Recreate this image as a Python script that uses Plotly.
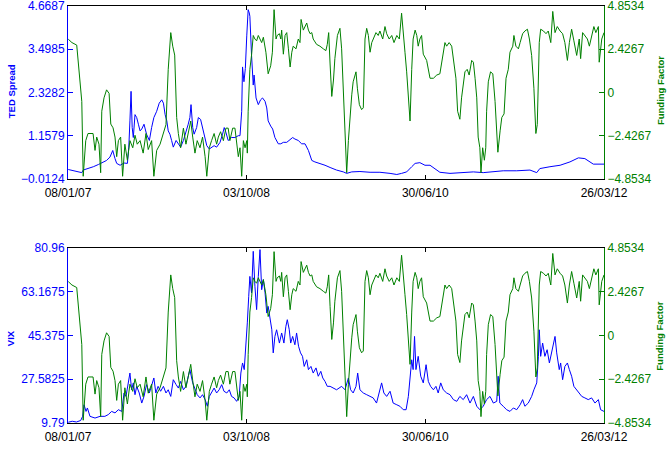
import pandas as pd
import plotly.graph_objects as go

START = pd.Timestamp("2007-01-08")
tick_dates = ["2007-01-08", "2008-10-03", "2010-06-30", "2012-03-26"]
tick_labels = ["08/01/07", "03/10/08", "30/06/10", "26/03/12"]

ted_ticks = [-0.0124, 1.1579, 2.3282, 3.4985, 4.6687]
ted_labels = ["\u22120.0124", "1.1579", "2.3282", "3.4985", "4.6687"]
vix_ticks = [9.79, 27.5825, 45.375, 63.1675, 80.96]
vix_labels = ["9.79", "27.5825", "45.375", "63.1675", "80.96"]
ff_ticks = [-4.8534, -2.4267, 0, 2.4267, 4.8534]
ff_labels = ["\u22124.8534", "\u22122.4267", "0", "2.4267", "4.8534"]

# Funding factor (days since 08/01/07, value)
ff_days = [1, 14, 31, 39, 49, 54, 63, 71, 89, 96,
           102, 110, 116, 120, 128, 137, 146, 152, 160, 167,
           173, 179, 187, 194, 202, 211, 220, 230, 238, 246,
           256, 267, 277, 285, 297, 305, 315, 327, 339, 348,
           356, 365, 372, 379, 386, 392, 400, 410, 419, 427,
           436, 443, 451, 459, 469, 478, 487, 493, 502, 510,
           519, 528, 534, 542, 552, 561, 569, 575, 585, 593,
           599, 605, 611, 617, 623, 629, 635, 637, 640, 646,
           652, 658, 664, 670, 676, 688, 694, 703, 711, 720,
           726, 732, 739, 743, 751, 756, 759, 765, 771, 777,
           783, 789, 795, 800, 810, 818, 824, 828, 836, 842,
           848, 854, 860, 866, 871, 883, 895, 907, 916, 921,
           926, 931, 937, 943, 948, 957, 966, 972, 978, 984,
           990, 996, 1002, 1008, 1013, 1023, 1028, 1035, 1043, 1049,
           1055, 1061, 1067, 1073, 1079, 1084, 1094, 1102, 1108, 1118,
           1126, 1132, 1141, 1150, 1158, 1168, 1177, 1185, 1191, 1197,
           1203, 1209, 1215, 1221, 1226, 1233, 1239, 1244, 1250, 1256,
           1262, 1274, 1280, 1286, 1298, 1310, 1321, 1333, 1339, 1345,
           1354, 1363, 1368, 1378, 1384, 1392, 1398, 1404, 1410, 1418,
           1425, 1434, 1440, 1446, 1452, 1457, 1463, 1467, 1473, 1479,
           1484, 1487, 1493, 1501, 1509, 1517, 1523, 1527, 1535, 1541,
           1549, 1556, 1564, 1570, 1580, 1584, 1591, 1600, 1606, 1615,
           1623, 1632, 1639, 1647, 1655, 1662, 1667, 1674, 1679, 1689,
           1698, 1706, 1715, 1722, 1730, 1738, 1748, 1757, 1765, 1774,
           1781, 1789, 1797, 1807, 1816, 1821, 1828, 1836, 1845, 1852,
           1860, 1868, 1875, 1884, 1887, 1896, 1904]
ff_vals = [2.99, 2.8, 2.66, 1.3, -0.5, -4.7, -2.7, -2.3, -2.3, -3.25,
           -2.5, -2.9, -4.5, -1.05, -0.3, 0.15, -0.05, -1.77, -1.98, -2.5,
           -3.6, -2.7, -2.5, -4.7, -2.9, -3.8, -2.7, -3.1, -2.4, -2.9,
           -2.7, -3.4, -2.3, -3.2, -2.7, -4.7, -3.25, -2.9, -2.3, -1.8,
           1.3, 3.36, 2.6, 2.1, -1.4, -2.3, -3.1, -2.0, -2.9, -2.2,
           -1.6, -2.5, -3.4, -2.7, -3.1, -2.5, -3.6, -4.7, -3.1, -2.7,
           -2.3, -2.9, -2.5, -2.2, -2.7, -2.0, -2.0, -2.7, -2.0, -2.0,
           -2.9, -3.6, -3.1, -4.7, -2.7, -3.1, -2.7, -3.4, -1.05, 1.3,
           2.1, 3.2, 3.0, 2.9, 3.2, 2.8, 3.1, 2.26, 1.05, 1.5,
           2.26, 4.65, 3.0, 3.2, 3.3, 3.0, 3.5, 2.15, 3.2, 3.36,
           2.45, 1.43, 2.26, 2.6, 2.45, 3.0, 2.8, 4.1, 3.5, 3.7,
           3.9, 3.5, 3.3, 3.36, 3.0, 2.7, 2.6, 2.45, 2.35, 2.7,
           3.36, 1.6, -0.22, 0.7, 1.9, 3.2, 3.6, 2.45, 0.4, -2.3,
           -4.5, -2.7, -1.2, -0.13, 0.6, 1.16, 0.24, -0.68, -0.96, -0.86,
           3.0, 3.6, 3.2, 2.26, 2.8, 3.0, 3.36, 3.2, 3.45, 3.0,
           3.7, 3.3, 3.0, 3.2, 2.8, 3.2, 3.0, 4.45, 3.5, 2.26,
           1.16, -0.3, -1.6, 1.3, 3.0, 3.5, 3.2, 2.6, 3.0, 3.2,
           2.15, 1.8, 1.3, 0.8, 0.8, 0.98, 1.05, 2.08, 2.8, 2.6,
           2.8, 2.6, 1.9, 0.8, -1.05, -1.5, -0.3, 0.6, 1.16, 1.3,
           0.98, 1.8, 1.7, 0.8, -0.3, -2.5, -3.1, -4.5, -3.1, -3.8,
           -3.1, -1.05, 0.6, 1.16, 1.05, -0.5, -2.5, -3.35, -2.15, -1.4,
           -1.2, 0.8, 1.3, 2.26, 2.6, 3.2, 2.6, 2.45, 2.8, 3.3,
           3.45, 3.55, 3.0, 2.08, 0.24, -2.3, -1.8, 2.8, 3.55, 3.45,
           3.3, 3.45, 2.8, 4.55, 3.36, 3.7, 3.45, 3.3, 2.8, 1.8,
           2.8, 3.55, 2.9, 2.08, 3.0, 1.9, 3.36, 3.2, 3.0, 2.6,
           3.1, 3.7, 3.36, 3.7, 1.7, 3.0, 3.36]

# TED spread
ted_days = [1, 25, 49, 54, 72, 90, 108, 125, 137, 149,
            159, 167, 173, 185, 199, 211, 216, 220, 224, 228,
            232, 238, 244, 250, 256, 262, 270, 279, 289, 297,
            305, 315, 324, 333, 339, 345, 351, 356, 362, 368,
            374, 384, 392, 400, 410, 421, 427, 433, 437, 443,
            448, 457, 463, 471, 478, 487, 493, 502, 510, 519,
            528, 540, 549, 555, 561, 569, 581, 593, 605, 611,
            617, 620, 625, 630, 635, 640, 644, 646, 652, 658,
            661, 668, 676, 684, 691, 700, 706, 711, 720, 727,
            735, 741, 747, 756, 765, 777, 789, 798, 806, 818,
            830, 842, 854, 866, 877, 895, 913, 931, 954, 978,
            990, 1008, 1037, 1073, 1108, 1144, 1168, 1185, 1203, 1221,
            1233, 1250, 1268, 1286, 1304, 1321, 1357, 1404, 1440, 1475,
            1511, 1546, 1594, 1641, 1665, 1676, 1712, 1748, 1783, 1813,
            1836, 1866, 1904]
ted_vals = [0.245, 0.21, 0.16, 0.23, 0.27, 0.32, 0.38, 0.45, 0.49, 0.58,
            0.76, 0.54, 0.41, 0.36, 0.42, 0.41, 0.85, 1.56, 2.36, 1.38,
            1.11, 1.73, 1.65, 1.47, 1.29, 1.34, 1.47, 1.2, 1.03, 1.38,
            1.65, 1.82, 2.04, 2.13, 2.04, 1.73, 1.56, 1.29, 1.2, 1.03,
            0.85, 1.03, 0.94, 0.85, 1.03, 1.29, 1.47, 1.65, 2.0, 1.38,
            1.2, 1.38, 1.65, 1.6, 1.38, 1.03, 0.89, 0.8, 0.85, 0.89,
            0.85, 0.98, 1.2, 1.38, 1.25, 1.03, 1.11, 1.11, 1.16, 1.16,
            1.82, 3.02, 2.62, 2.98, 3.86, 4.57, 4.48, 4.39, 3.33, 2.53,
            2.8, 2.18, 2.0, 2.13, 2.18, 2.09, 1.91, 1.56, 1.42, 1.34,
            1.11, 1.03, 0.94, 0.94, 0.98, 0.98, 1.07, 1.11, 1.07, 1.03,
            0.94, 0.94, 0.76, 0.49, 0.45, 0.41, 0.36, 0.3, 0.23, 0.18,
            0.14, 0.18, 0.19, 0.17, 0.17, 0.14, 0.11, 0.14, 0.18, 0.32,
            0.41, 0.43, 0.36, 0.36, 0.27, 0.17, 0.14, 0.16, 0.18, 0.16,
            0.18, 0.21, 0.21, 0.23, 0.16, 0.27, 0.32, 0.36, 0.45, 0.56,
            0.54, 0.39, 0.39]

# VIX
vix_days = [1, 15, 30, 45, 52, 57, 64, 69, 78, 96,
            114, 131, 143, 155, 167, 179, 191, 199, 206, 214,
            220, 226, 232, 238, 244, 253, 262, 270, 279, 289,
            297, 305, 312, 320, 329, 339, 348, 356, 365, 374,
            384, 392, 400, 410, 419, 427, 433, 443, 451, 459,
            469, 478, 487, 495, 502, 510, 519, 528, 537, 546,
            554, 564, 573, 581, 590, 599, 608, 614, 620, 626,
            632, 637, 642, 646, 652, 658, 664, 670, 676, 682,
            688, 694, 700, 706, 711, 717, 724, 729, 735, 741,
            751, 759, 767, 774, 779, 786, 791, 798, 806, 812,
            819, 826, 833, 839, 848, 854, 863, 871, 881, 889,
            898, 905, 913, 921,
            931, 954, 972, 984, 996, 1004, 1013, 1023, 1029, 1037,
            1049, 1061, 1073, 1084, 1096, 1106, 1114, 1122, 1132, 1144,
            1155, 1168, 1179, 1191, 1201, 1209, 1215, 1221, 1226, 1231,
            1236, 1244, 1253, 1262, 1272, 1280, 1288, 1298, 1307, 1315,
            1324, 1333, 1345, 1357, 1369, 1381, 1392, 1404, 1416, 1428,
            1440, 1452, 1463, 1475, 1487, 1499, 1511, 1523, 1528, 1534,
            1546, 1558, 1570, 1582, 1594, 1606, 1615, 1623, 1635, 1647,
            1655, 1665, 1671, 1674, 1679, 1686, 1694, 1702, 1710, 1718,
            1724, 1730, 1736, 1745, 1750, 1757, 1765, 1774, 1781, 1789,
            1797, 1807, 1816, 1825, 1836, 1848, 1860, 1872, 1884, 1892,
            1904]
vix_vals = [10.1, 10.5, 10.2, 10.8, 12.5, 17.2, 14.5, 15.9, 12.5, 11.8,
            12.5, 12.5, 13.2, 14.5, 13.9, 15.2, 14.5, 22.0, 20.6, 25.4,
            30.1, 23.3, 26.1, 21.3, 24.7, 22.0, 17.9, 20.6, 25.4, 22.0,
            24.7, 28.1, 22.0, 24.7, 22.7, 24.7, 22.0, 23.3, 20.6, 27.4,
            25.4, 24.0, 26.7, 23.3, 24.7, 28.1, 31.5, 26.1, 24.0, 21.3,
            20.0, 21.3, 19.3, 16.6, 20.6, 22.0, 24.0, 22.0, 23.3, 25.4,
            22.7, 22.0, 23.3, 20.6, 20.0, 18.6, 20.6, 30.1, 34.2, 31.5,
            41.0, 50.5, 61.3, 69.4, 62.7, 79.6, 65.4, 55.9, 69.4, 80.3,
            64.0, 68.1, 62.7, 54.5, 57.2, 51.8, 47.7, 38.3, 45.0, 47.7,
            42.3, 46.4, 42.3, 49.1, 51.8, 47.7, 42.3, 45.0, 41.6, 46.4,
            41.0, 38.3, 36.9, 32.8, 35.5, 31.5, 32.8, 30.1, 32.2, 28.8,
            30.8, 28.1, 26.7, 24.7,
            24.7, 23.3, 24.7, 23.3, 28.1, 23.3, 22.0, 24.7, 30.1, 23.3,
            22.0, 21.3, 20.6, 20.0, 17.9, 22.0, 26.1, 22.0, 20.6, 22.7,
            17.9, 17.2, 16.6, 15.2, 15.2, 20.6, 27.4, 35.5, 31.5, 45.0,
            31.5, 36.9, 28.8, 26.1, 33.5, 26.7, 24.7, 23.3, 24.7, 22.0,
            26.1, 23.3, 22.0, 21.3, 19.3, 18.6, 20.6, 19.3, 21.3, 17.9,
            20.6, 16.6, 15.2, 16.6, 19.3, 20.6, 17.9, 18.6, 28.8, 17.9,
            16.6, 15.2, 14.5, 15.9, 15.2, 17.2, 19.3, 16.6, 17.9, 20.6,
            23.3, 26.1, 36.9, 47.7, 36.9, 42.3, 36.9, 39.6, 34.2, 38.3,
            41.0, 45.0, 38.3, 31.5, 34.2, 27.4, 32.8, 34.2, 31.5, 28.8,
            24.7, 23.3, 22.0, 20.6, 20.0, 19.3, 20.0, 17.9, 19.3, 15.2,
            14.5]


def to_dates(days):
    return START + pd.to_timedelta(days, unit="D")


BLUE = "#0000ff"
GREEN = "#008000"
FONT = "Liberation Sans, Arial, sans-serif"

fig = go.Figure()
fig.add_trace(go.Scatter(x=to_dates(ted_days), y=ted_vals, mode="lines",
                         line=dict(color=BLUE, width=1), xaxis="x", yaxis="y"))
fig.add_trace(go.Scatter(x=to_dates(ff_days), y=ff_vals, mode="lines",
                         line=dict(color=GREEN, width=1), xaxis="x", yaxis="y2"))
fig.add_trace(go.Scatter(x=to_dates(vix_days), y=vix_vals, mode="lines",
                         line=dict(color=BLUE, width=1), xaxis="x2", yaxis="y3"))
fig.add_trace(go.Scatter(x=to_dates(ff_days), y=ff_vals, mode="lines",
                         line=dict(color=GREEN, width=1), xaxis="x2", yaxis="y4"))

xcommon = dict(range=[tick_dates[0], tick_dates[-1]], tickmode="array",
               tickvals=tick_dates, ticktext=tick_labels, ticks="inside",
               ticklen=4, tickcolor="black", showline=True, linecolor="black",
               linewidth=1, mirror="ticks", showgrid=False, zeroline=False,
               tickfont=dict(color="black", size=12), automargin=False,
               ticklabeloverflow="allow", ticklabelstandoff=3)


def yleft(rng, tv, tt, domain, anchor):
    return dict(range=rng, tickmode="array", tickvals=tv, ticktext=tt,
                ticks="inside", ticklen=5, tickcolor=BLUE, showline=True,
                linecolor=BLUE, linewidth=1, showgrid=False, zeroline=False,
                tickfont=dict(color=BLUE, size=12), domain=domain,
                anchor=anchor, automargin=False, ticklabeloverflow="allow")


def yright(rng, tv, tt, over, anchor):
    return dict(range=rng, tickmode="array", tickvals=tv, ticktext=tt,
                ticks="inside", ticklen=5, tickcolor=GREEN, showline=True,
                linecolor=GREEN, linewidth=1, showgrid=False, zeroline=False,
                tickfont=dict(color=GREEN, size=12), overlaying=over,
                side="right", anchor=anchor, automargin=False,
                ticklabeloverflow="allow")


fig.update_layout(
    width=669, height=451,
    margin=dict(l=68, r=65, t=6, b=28),
    paper_bgcolor="white", plot_bgcolor="white",
    showlegend=False,
    font=dict(family=FONT, size=12),
    xaxis=dict(xcommon, anchor="y", domain=[0, 1]),
    xaxis2=dict(xcommon, anchor="y3", domain=[0, 1]),
    yaxis=yleft([ted_ticks[0], ted_ticks[-1]], ted_ticks, ted_labels, [0.5851, 1.0], "x"),
    yaxis2=yright([ff_ticks[0], ff_ticks[-1]], ff_ticks, ff_labels, "y", "x"),
    yaxis3=yleft([vix_ticks[0], vix_ticks[-1]], vix_ticks, vix_labels, [0.0, 0.4197], "x2"),
    yaxis4=yright([ff_ticks[0], ff_ticks[-1]], ff_ticks, ff_labels, "y3", "x2"),
    annotations=[
        dict(text="<b>TED Spread</b>", x=-0.106, y=0.796, xref="paper", yref="paper",
             textangle=-90, showarrow=False, font=dict(color=BLUE, size=9.5, family=FONT),
             xanchor="center", yanchor="middle"),
        dict(text="<b>Funding Factor</b>", x=1.1045, y=0.796, xref="paper", yref="paper",
             textangle=-90, showarrow=False, font=dict(color=GREEN, size=9.5, family=FONT),
             xanchor="center", yanchor="middle"),
        dict(text="<b>VIX</b>", x=-0.108, y=0.2038, xref="paper", yref="paper",
             textangle=-90, showarrow=False, font=dict(color=BLUE, size=9.5, family=FONT),
             xanchor="center", yanchor="middle"),
        dict(text="<b>Funding Factor</b>", x=1.1045, y=0.207, xref="paper", yref="paper",
             textangle=-90, showarrow=False, font=dict(color=GREEN, size=9.5, family=FONT),
             xanchor="center", yanchor="middle"),
    ],
)

fig.write_html("out.html")
